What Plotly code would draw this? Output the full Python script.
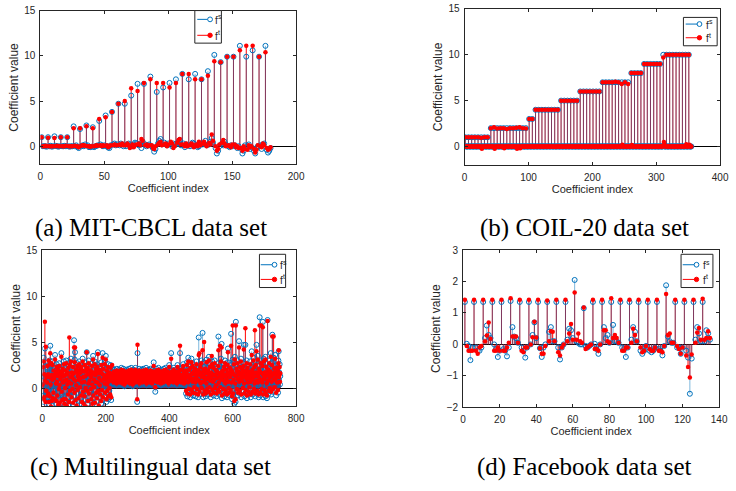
import plotly.graph_objects as go

W, H = 736, 491
BLUE = '#0072BD'
RED = '#FF0000'
AX = '#262626'
SANS = 'Liberation Sans, Arial, sans-serif'
SERIF = 'Liberation Serif, Times New Roman, serif'

# ---------------- (a) MIT-CBCL ----------------
fs_a = [
    1.0, 0, 0, 0, -0.05, 1.0, 0, 0.05, -0.05, 0, 1.1, 0.05, 0, -0.05, 0,
    1.0, 0, 0, 0.05, 0, 1.0, 0, -0.05, 0, 0, 2.2, 0, 0.1, -0.1, -0.2,
    1.9, 0, 0.1, 0, 0.2, 2.3, 0.1, -0.1, -0.1, -0.05, 2.1, -0.1, 0, 0.05, 0.1,
    2.8, 0.2, 0.1, 0, 0.1, 3.4, 0, -0.15, -0.2, 0.1, 3.8, 0.2, 0.3, 0.1, 0.2,
    4.7, 0.1, 0.3, 0.2, 0, 4.7, 0, 0.2, 0.3, 0.1, 5.6, 0, 0.2, 0.4, 0.3,
    6.9, 0.1, 0.3, -0.2, 0.5, 6.9, 0.2, 0, 0.1, 0.2, 7.7, 0, -0.2, -0.6, -0.3,
    6.0, 0.3, 0.6, 0.8, 0.2, 6.5, 0.4, 0.2, 0.1, 0.3, 7.0, 0.2, 0, 0.3, 0.1,
    7.4, 0.3, 0.5, 0.7, 0.1, 8.0, 0.3, -0.1, 0.2, 0.1, 7.4, 0, 0.2, 0.4, 0.3,
    8.0, 0.1, -0.1, 0, 0.2, 7.4, 0.2, 0.3, 0.6, 0.1, 8.3, 0.2, 0.5, 0.9, 0.4,
    10.1, -0.2, -0.8, -0.5, 0, 9.3, 0.3, 0.1, 0.5, 0.2, 9.9, 0, -0.1, 0.1, 0,
    9.9, 0.1, 0, -0.2, 0, 11.1, -0.3, -0.8, -0.5, 0.1, 9.9, 0, 0.2, -0.3, -0.1,
    10.6, -0.5, -0.8, -0.2, 0, 9.9, 0.1, -0.3, 0.2, 0.3, 11.1, -0.4, -0.7, -0.5, -0.2,
]
ft_a = [
    1.0, 0, 0, 0.05, 0, 0.95, 0, 0, 0, 0, 0.9, 0, 0.05, 0, 0,
    1.0, 0, 0, 0, 0.05, 1.0, 0, 0, 0, 0, 2.0, 0.05, 0, 0, -0.1,
    2.0, 0.05, 0.1, 0.1, 0.05, 2.2, 0, 0, -0.05, 0, 2.0, 0, 0.05, 0.1, 0.05,
    3.0, 0.1, 0, 0.1, 0.05, 3.2, 0.1, -0.1, 0, 0.1, 3.8, 0.1, 0.2, 0.1, 0.1,
    4.7, 0.2, 0.1, 0.3, 0.1, 5.0, 0.1, 0.3, 0.1, -0.2, 6.4, 0.2, -0.1, 0.1, 0.2,
    6.1, 0.3, 0.1, 0.8, 0.6, 7.0, 0.1, 0.2, 0, 0.1, 7.4, 0.1, -0.2, -0.3, 0,
    7.0, 0.2, 0.4, 0.5, 0.1, 7.0, 0.2, 0.3, 0, 0.2, 6.5, 0.5, 0.3, -0.2, 0,
    7.0, 0.4, 0.7, 0.8, 0.2, 8.0, 0.2, 0, 0.3, 0, 8.0, 0.1, 0.3, 0.2, -0.1,
    7.4, 0.2, 0, 0.5, 0.1, 7.4, 0.3, 0.5, 0.2, 0, 7.8, 0.4, 0.2, 1.3, 0.6,
    9.4, 0, -0.5, -0.3, 0.2, 9.3, 0.4, 0.7, 0.3, 0, 9.9, 0.1, 0, -0.1, 0.2,
    9.9, 0.2, -0.1, 0, -0.2, 10.6, -0.2, -0.5, 0, -0.3, 11.1, -0.4, 0.1, -0.1, 0,
    11.1, -0.3, -0.7, -0.4, 0.1, 9.9, 0, -0.1, 0.3, 0.1, 10.4, -0.2, -0.4, -0.3, -0.1,
]

# ---------------- (b) COIL-20 ----------------
fs_b = [
    1, 0, 0, 0, 0, 1, 0, 0, 0, 0, 1, 0, 0, 0, 0, 1, 0, 0, 0, 0,
    1, 0, 0, 0, 0, 1, 0, 0, 0, 0, 1, 0, 0, 0, 0, 1, 0, 0, 0, 0,
    2, 0, 0, 0, 0, 2, 0, 0, 0, 0, 2, 0, 0, 0, 0, 2, 0, 0, 0, 0,
    2, 0, 0, 0, 0, 2, 0, 0, 0, 0, 2, 0, 0, 0, 0, 2, 0, 0, 0, 0,
    2, 0, 0, 0, 0, 2, 0, 0, 0, 0, 2, 0, 0, 0, 0, 2, 0, 0, 0, 0,
    3, 0, 0, 0, 0, 3, 0, 0, 0, 0,
    4, 0, 0, 0, 0, 4, 0, 0, 0, 0, 4, 0, 0, 0, 0, 4, 0, 0, 0, 0,
    4, 0, 0, 0, 0, 4, 0, 0, 0, 0, 4, 0, 0, 0, 0, 4, 0, 0, 0, 0,
    5, 0, 0, 0, 0, 5, 0, 0, 0, 0, 5, 0, 0, 0, 0, 5, 0, 0, 0, 0,
    5, 0, 0, 0, 0, 5, 0, 0, 0, 0,
    6, 0, 0, 0, 0, 6, 0, 0, 0, 0, 6, 0, 0, 0, 0, 6, 0, 0, 0, 0,
    6, 0, 0, 0, 0, 6, 0, 0, 0, 0, 6, 0, 0, 0, 0,
    7, 0, 0, 0, 0, 7, 0, 0, 0, 0, 7, 0, 0, 0, 0, 7, 0, 0, 0, 0,
    7, 0, 0, 0, 0, 7, 0, 0, 0, 0, 7, 0, 0, 0, 0, 7, 0, 0, 0, 0,
    7, 0, 0, 0, 0,
    8, 0, 0, 0, 0, 8, 0, 0, 0, 0, 8, 0, 0, 0, 0, 8, 0, 0, 0, 0,
    9, 0, 0, 0, 0, 9, 0, 0, 0, 0, 9, 0, 0, 0, 0, 9, 0, 0, 0, 0,
    9, 0, 0, 0, 0, 9, 0, 0, 0, 0,
    10, 0.1, 0, 0, 0, 10, 0, 0, 0, 0, 10, 0, 0, 0, 0, 10, 0, 0, 0, 0,
    10, 0, 0, 0, 0, 10, 0, 0, 0, 0, 10, 0, 0, 0, 0, 10, 0, 0, 0, 0,
    10, 0, 0, 0, 0,
]
ft_b = [
    1, 0, 0, 0, 0, 1, 0, 0, 0, 0, 1, 0, 0, 0, 0, 1, 0, 0, 0, 0,
    1, 0, 0, 0, 0, 0.95, -0.25, 0, 0, 0, 1, 0, 0, 0, 0, 1, 0, 0, 0, 0,
    2, 0, 0, 0, 0, 2.1, -0.25, 0, 0, 0, 1.95, 0, 0, 0, 0, 2, 0, 0, 0, 0,
    2, -0.2, 0, 0, 0, 1.9, 0, 0, 0, 0, 2, 0, 0, 0, 0, 2, 0, 0, 0, 0,
    2.05, -0.25, 0, 0, 0, 2.1, -0.2, 0, 0, 0, 2, 0, 0, 0, 0, 1.95, 0, 0, 0, 0,
    3, 0, 0, 0, 0, 3, 0, 0, 0, 0,
    4, 0, 0, 0, 0, 4, 0, 0, 0, 0, 4, 0, 0, 0, 0, 4, 0, 0, 0, 0,
    4, 0, 0, 0, 0, 4, 0, 0, 0, 0, 4, -0.05, 0, 0, 0, 4, 0, 0, 0, 0,
    5, 0, 0, 0, 0, 5, 0, 0, 0, 0, 5, 0, 0, 0, 0, 5, 0, 0, 0, 0,
    5, 0, 0, 0, 0, 5, 0, 0, 0, 0,
    6, 0, 0, 0, 0, 6, 0, 0, 0, 0, 6, 0, 0, 0, 0, 6, 0, 0, 0, 0,
    6, 0, 0, 0, 0, 6, 0, 0, 0, 0, 6, 0, 0, 0, 0,
    7, 0, 0, 0, 0, 7, 0, 0, 0, 0, 7, 0, 0, 0, 0, 7, 0, 0, 0, 0,
    7.05, 0, 0, 0, 0, 7, 0, 0, 0, 0, 6.8, 0.2, 0, 0, 0, 7, 0, 0, 0, 0,
    6.8, 0, 0, 0, 0,
    8, 0.15, 0, 0, 0, 8, 0, 0, 0, 0, 8, 0, 0, 0, 0, 8, 0, 0, 0, 0,
    9, 0, 0, 0, 0, 9, 0, 0, 0, 0, 9, 0, 0, 0, 0, 9, 0, 0, 0, 0,
    9, 0, 0, 0, 0, 9, 0, 0, 0, 0,
    9.7, 0.5, 0.2, 0, 0, 10, 0, 0, 0, 0, 10, 0, 0, 0, 0, 10, 0, 0, 0, 0,
    10, 0, 0, 0, 0, 10, 0, 0, 0, 0, 10, 0, 0, 0, 0, 10, 0.25, 0, 0, 0,
    10, 0.2, 0, 0, 0,
]

# ---------------- (c) Multilingual ----------------
fs_c = [
    0.2, 2.6, -1.5, 3.3, -0.8, 1.2, -2.5, 4.3, 0.5, -1.2,
    2.8, -0.5, 1.5, -2.2, 0.3, 2.1, -1.0, 1.8, -0.3, 2.5,
    -1.8, 0.9, 3.0, -0.6, 4.6, 0.1, -2.3, 1.7, 2.4, -1.1,
    0.6, 2.9, -1.4, 1.1, -0.2, 2.2, -2.6, 0.8, 1.6, 3.6,
    -0.9, 1.9, 0.2, -1.7, 2.6, 0.4, -0.5, 1.3, 2.3, -2.1,
    1.0, -0.4, 2.7, 0.0, -1.3, 1.8, 0.7, -2.4, 2.1, 3.8,
    -0.7, 1.4, -1.6, 2.4, 0.3, 1.0, -0.9, 2.9, -2.0, 0.5,
    1.7, -0.3, 2.2, -1.5, 3.0, 0.6, -2.2, 1.2, 0.1, 2.0,
    -1.0, 2.5, 0.4, -1.8, 1.5, 2.8, -0.6, 0.9, -2.5, 3.2,
    0.2, -1.3, 2.0, 1.1, -0.4, 2.6, -1.9, 0.7, 1.9, 5.2,
    -0.8, 3.1, 3.9, 0.5, -1.6, 2.3, 0.0, -2.2, 1.4, 2.7,
    -0.5, 1.0, 2.2, -1.4, 0.6, 2.9, -2.7, 1.3, -0.2, 2.4,
    0.8, -1.1, 2.6, 0.3, -1.8, 1.6, 3.2, -0.7, 0.9, -2.0,
    2.1, 0.4, -1.2, 2.8, 1.0, -0.3, -2.3, 1.5, 2.4, 3.9,
    -0.6, 1.2, 2.5, -1.7, 0.2, 3.0, -0.9, 1.8, 0.5, -2.4,
    1.6, 2.2, -0.4, 0.9, -1.5, 2.7, 0.1, -2.0, 1.3, 3.5,
    -1.1, 2.0, 0.6, -0.2, 2.9, -1.9, 1.1, 0.4, 2.4, -0.8,
    1.5, -1.4, 2.6, 0.3, 3.9, -0.6, 1.9, -2.2, 0.8, 2.3,
    0.0, -1.0, 2.1, 1.4, -1.7, 2.8, 0.5, -0.5, 1.2, 3.8,
    -1.3, 2.4, 0.7, -2.5, 1.7, 0.2, 2.9, -0.8, 1.0, 3.5,
    0.6, -1.5, 2.2, 0.1, -0.6, 1.8, 2.6, -1.2, 0.4, 1.5,
    -0.3, 2.0, 0.8, -1.0, 2.5, 1.1, -1.3, 0.5, 1.6, 2.2,
    0.9, 1.6, 0.5, 1.9, 1.2, 0.4, 2.0, 1.0, 0.7, 1.5,
    1.8, 0.6, 1.3, 0.3, 2.1, 1.1, 0.8, 1.7, 0.5, 1.4,
    1.0, 2.0, 0.4, 1.6, 0.9, 1.9, 0.6, 1.2, 2.2, 0.7,
    1.5, 0.3, 1.8, 1.1, 0.5, 2.1, 0.9, 1.4, 0.2, 1.7,
    0.8, 1.9, 0.6, 1.3, 2.0, 0.4, 1.6, 1.0, 1.8, 0.5,
    1.2, 0.7, 2.1, 0.9, 1.5, 0.3, 1.8, 1.1, 0.6, 2.2,
    0.5, 1.4, 1.0, 1.9, 0.2, 1.6, 2.0, 0.8, 1.3, 0.6,
    1.7, 0.9, 2.2, 0.4, 1.2, 1.9, 0.7, 1.5, -1.5, 3.8,
    1.0, 1.8, 0.5, 1.3, 2.1, 0.3, 1.6, 0.9, 1.9, 0.6,
    1.4, 0.8, 2.0, 1.1, 0.4, 1.7, 1.0, 2.1, 0.6, 1.3,
    0.7, 1.9, 1.2, 0.5, 1.8, 0.9, 2.2, 0.3, 1.5, 1.0,
    1.6, 0.6, 1.3, 2.0, 0.8, 1.4, 0.4, 1.9, 1.1, 0.7,
    2.1, 1.0, 0.5, 1.7, 1.2, 0.3, 2.0, 0.8, 1.5, 0.9,
    2.8, 1.3, 0.6, 1.9, 1.0, -0.4, 1.6, 0.9, 2.1, 0.5,
    1.4, 0.8, 1.8, 1.1, 0.4, 2.2, 0.7, 1.5, 1.0, 1.9,
    0.6, 1.7, 1.2, 0.3, 2.0, 0.9, 1.4, 0.5, 1.8, 1.1,
    1.5, 0.4, 2.1, 1.0, 0.7, 1.6, 1.3, 2.2, 0.6, 1.2,
    0.9, 1.8, 0.5, 1.4, 2.0, 0.8, 1.1, 0.3, 1.7, 2.5,
    1.2, 0.7, 1.9, 1.0, 0.5, 3.8, 1.3, 0.8, 2.0, 0.6,
    1.6, 1.1, 0.4, 2.2, 0.9, 1.5, 0.7, 1.8, 1.2, 0.5,
    2.0, 0.8, 1.4, 0.3, 1.7, 2.5, 0.6, 1.1, 1.9, 0.9,
    1.3, 2.1, 0.5, 3.8, 1.0, 0.7, 1.6, 1.2, 0.4, 2.2,
    0.8, 1.5, 1.1, 2.6, 0.6, 1.9, 0.3, 1.4, 1.0, 2.0,
    0.5, 2.2, -0.6, 1.4, 0.9, 2.8, -0.9, 1.1, 0.3, 3.3,
    1.0, -0.4, 2.3, 0.6, 1.7, -1.0, 2.5, 0.8, 1.3, 3.2,
    -0.5, 1.9, 0.4, 2.7, -0.8, 1.2, 0.7, 2.1, -0.2, 1.5,
    2.4, 0.3, -0.9, 1.8, 0.9, 2.9, -0.4, 1.3, 0.6, 2.2,
    -1.0, 1.6, 5.5, 0.5, 2.0, -0.7, 1.1, 2.6, 0.2, 1.4,
    3.0, -0.3, 0.9, 1.7, 6.0, 0.4, -1.0, 2.3, 1.0, 2.8,
    -0.6, 1.5, 0.6, 2.4, -0.9, 1.9, 0.2, 3.1, 0.8, -0.4,
    1.3, 2.2, -0.7, 0.7, 3.4, 1.0, -0.2, 2.6, 0.5, 1.8,
    -1.0, 2.0, 0.9, 1.4, 2.9, -0.5, 1.2, 0.4, 2.5, -0.8,
    1.7, 0.6, 3.0, -0.3, 1.1, 2.3, 0.0, 1.6, -0.9, 2.1,
    0.8, 1.4, -0.5, 2.7, 5.6, 0.3, 1.9, -0.7, 1.0, 2.4,
    -0.2, 1.2, 3.2, 0.6, 4.8, -1.1, 1.5, 0.9, 2.2, -0.4,
    1.8, 0.5, 2.6, -0.9, 1.0, 3.0, 0.2, -0.6, 1.7, 2.3,
    0.7, -1.0, 1.3, 2.8, 4.3, 0.4, -0.3, 2.0, 1.1, -0.8,
    2.5, 0.9, -0.5, 1.6, 5.9, 0.3, 2.2, -1.2, 1.4, 3.1,
    -0.9, 1.8, 0.6, 2.9, -1.7, 1.1, 3.4, 0.2, -1.5, 7.2,
    1.0, 2.4, -0.4, 1.5, 3.0, 0.7, -0.8, 2.1, 1.2, 5.1,
    0.4, -0.6, 2.6, 1.3, 0.8, 3.2, -1.0, 1.7, 0.5, 2.3,
    1.9, -0.3, 0.9, 2.7, 4.7, 0.2, -0.9, 1.4, 2.2, 4.7,
    -0.5, 1.6, 0.7, 3.0, -1.1, 1.2, 2.5, 0.3, 1.8, -0.7,
    2.1, 0.8, -0.2, 1.5, 2.9, 0.4, -1.0, 1.9, 1.1, 4.0,
    0.6, 2.3, -0.7, 1.3, 3.3, 0.9, -0.4, 2.6, 0.2, 1.7,
    -0.9, 1.4, 2.8, 0.5, 4.7, 1.0, -0.6, 2.0, 3.5, 0.3,
    1.2, -1.0, 2.4, 0.8, 7.7, 1.5, -0.8, 3.0, 0.6, 2.2,
    -0.4, 1.9, 0.3, 2.7, 7.2, -1.0, 1.1, 3.2, 0.7, -0.5,
    2.0, 0.9, 3.4, -0.9, 1.4, 2.6, 0.2, -1.1, 1.7, 7.4,
    0.5, 2.3, -0.6, 1.2, 3.0, 0.8, -0.3, 2.1, 1.0, 3.8,
    -0.7, 1.6, 0.4, 2.8, 5.8, 1.1, -0.4, 1.9, 3.3, 0.6,
    2.4, -0.2, 1.3, 3.6, 0.7, 1.8, -0.8, 2.5, 1.0, 0.3,
    1.5, 2.2, -0.5, 3.0, 4.0, 0.9, 1.7, 2.6, 0.4, 1.3,
]
ft_c = [
    0.4, 2.3, -1.2, 2.9, -1.0, 1.5, -2.2, 7.2, 0.8, -1.5,
    4.5, -0.3, 1.2, -2.4, 0.6, 2.4, -0.8, 1.5, -0.6, 3.0,
    -1.5, 1.2, 2.6, -0.9, 3.8, 0.4, -2.0, 1.4, 2.7, -1.4,
    0.9, 2.5, -1.1, 1.4, -0.5, 1.9, -2.3, 1.1, 1.3, 3.1,
    -1.2, 1.6, 0.5, -1.4, 2.3, 0.7, -0.8, 1.6, 2.0, -1.8,
    1.3, -0.1, 2.4, 0.3, -1.6, 1.5, 1.0, -2.1, 1.8, 3.4,
    -0.4, 1.7, -1.3, 2.1, 0.6, 1.3, -1.2, 2.6, -1.7, 0.8,
    1.4, 0.0, 1.9, -1.2, 2.7, 0.9, -1.9, 1.5, 0.4, 1.7,
    -0.7, 2.2, 0.7, -1.5, 5.5, 2.5, -0.3, 1.2, -2.2, 2.9,
    0.5, -1.0, 1.7, 1.4, -0.1, 2.3, -1.6, 1.0, 1.6, 4.4,
    -0.5, 2.8, 4.4, 0.8, -1.3, 2.0, 0.3, -1.9, 1.7, 2.4,
    -0.2, 1.3, 1.9, -1.1, 0.9, 2.6, -2.4, 1.6, 0.1, 2.1,
    1.1, -0.8, 2.3, 0.6, -1.5, 1.9, 2.9, -0.4, 1.2, -1.7,
    1.8, 0.7, -0.9, 2.5, 1.3, 0.0, -2.0, 1.8, 2.1, 3.9,
    -0.3, 1.5, 2.2, -1.4, 0.5, 2.7, -0.6, 1.5, 0.8, -2.1,
    1.9, 1.9, -0.1, 1.2, -1.2, 2.4, 0.4, -1.7, 1.6, 3.1,
    -0.8, 1.7, 0.9, 0.1, 2.6, -1.6, 1.4, 0.7, 2.1, -0.5,
    1.8, -1.1, 2.3, 0.6, 3.7, -0.3, 1.6, -1.9, 1.1, 2.0,
    0.3, -0.7, 1.8, 1.7, -1.4, 2.5, 0.8, -0.2, 1.5, 3.3,
    -1.0, 2.1, 1.0, -2.2, 1.4, 0.5, 2.6, -0.5, 1.3, 3.1,
    0.9, -1.2, 1.9, 0.4, -0.3, 1.5, 2.3, -0.9, 0.7, 1.2,
    0.0, 1.7, 1.1, -0.7, 2.2, 1.4, -1.0, 0.8, 1.3, 2.5,
    1.1, 1.4, 0.7, 1.7, 1.4, 0.6, 1.8, 1.2, 0.9, 1.3,
    1.6, 0.8, 1.5, 0.5, 1.9, 1.3, 1.0, 1.5, 0.7, 1.6,
    1.2, 1.8, 0.6, 1.4, 1.1, 1.7, 0.8, 1.4, 2.0, 0.9,
    1.3, 0.5, 1.6, 1.3, 0.7, 1.9, 1.1, 1.2, 0.4, 1.5,
    1.0, 1.7, 0.8, 1.5, 1.8, 0.6, 1.4, 1.2, 1.6, 0.7,
    1.4, 0.9, 1.9, 1.1, 1.3, 0.5, 1.6, 1.3, 0.8, 2.0,
    0.7, 1.6, 1.2, 1.7, 0.4, 1.4, 1.8, 1.0, 1.5, 0.8,
    1.5, 1.1, 2.0, 0.6, 1.4, 1.7, 0.9, 1.3, -1.2, 4.7,
    1.2, 1.6, 0.7, 1.5, 1.9, 0.5, 1.4, 1.1, 1.7, 0.8,
    1.6, 1.0, 1.8, 1.3, 0.6, 1.5, 1.2, 1.9, 0.8, 1.5,
    0.9, 1.7, 1.4, 0.7, 1.6, 1.1, 2.0, 0.5, 1.3, 1.2,
    1.4, 0.8, 1.5, 1.8, 1.0, 1.6, 0.6, 1.7, 1.3, 0.9,
    1.9, 1.2, 0.7, 1.5, 1.4, 0.5, 1.8, 1.0, 1.3, 1.1,
    2.4, 1.5, 0.8, 1.7, 1.2, 0.1, 1.4, 1.1, 1.9, 0.7,
    1.6, 1.0, 1.6, 1.3, 0.6, 2.0, 0.9, 1.3, 1.2, 1.7,
    0.8, 1.5, 1.4, 0.5, 1.8, 1.1, 1.6, 0.7, 1.6, 1.3,
    1.3, 0.6, 1.9, 1.2, 0.9, 1.4, 1.5, 2.0, 0.8, 1.4,
    1.1, 1.6, 0.7, 1.6, 1.8, 1.0, 1.3, 0.5, 1.5, 2.3,
    1.4, 0.9, 1.7, 1.2, 0.7, 3.2, 1.5, 1.0, 1.8, 0.8,
    1.4, 1.3, 0.6, 2.0, 1.1, 1.3, 0.9, 1.6, 1.4, 0.7,
    1.8, 1.0, 1.2, 0.5, 1.5, 2.3, 0.8, 1.3, 1.7, 1.1,
    1.5, 1.9, 0.7, 4.6, 1.2, 0.9, 1.4, 1.4, 0.6, 2.0,
    1.0, 1.3, 1.3, 2.4, 0.8, 1.7, 0.5, 1.6, 1.2, 1.8,
    0.8, 1.9, -0.3, 1.7, 1.2, 2.5, -0.6, 1.4, 0.6, 2.9,
    1.3, -0.1, 2.0, 0.9, 1.4, -0.7, 2.2, 1.1, 1.0, 2.8,
    -0.2, 1.6, 0.7, 2.4, -0.5, 1.5, 1.0, 1.8, 0.1, 1.8,
    2.1, 0.6, -0.6, 1.5, 1.2, 2.6, -0.1, 1.6, 0.9, 1.9,
    -0.7, 1.9, 3.6, 0.8, 3.8, -0.4, 1.4, 2.3, 0.5, 1.7,
    2.7, 0.0, 1.2, 1.4, 4.1, 0.7, -0.7, 2.0, 1.3, 5.0,
    -0.3, 1.8, 0.9, 2.1, -0.6, 1.6, 0.5, 2.8, 1.1, -0.1,
    1.6, 1.9, -0.4, 1.0, 3.0, 1.3, 0.1, 2.3, 0.8, 1.5,
    -0.7, 1.7, 1.2, 3.5, 2.6, -0.2, 1.5, 0.7, 2.2, -0.5,
    1.4, 0.9, 2.7, 0.0, 1.4, 2.0, 0.3, 1.9, -0.6, 1.8,
    1.1, 1.7, -0.2, 2.4, 4.1, 0.6, 1.6, -0.4, 1.3, 4.6,
    0.1, 1.5, 2.9, 0.9, 4.4, -0.8, 1.8, 1.2, 1.9, -0.1,
    1.5, 0.8, 2.3, -0.6, 1.3, 2.7, 0.5, -0.3, 1.4, 2.0,
    1.0, -0.7, 1.6, 2.5, 3.9, 0.7, 0.0, 1.7, 1.4, -0.5,
    2.2, 1.2, -0.2, 1.9, 4.6, 0.6, 1.9, -0.9, 1.7, 6.8,
    -0.6, 1.5, 0.9, 2.6, -1.4, 1.4, 3.1, 0.5, -1.2, 6.8,
    1.3, 2.1, -0.1, 1.8, 2.7, 1.0, -0.5, 1.8, 1.5, 4.4,
    0.7, -0.3, 2.3, 1.6, 1.1, 2.9, -0.7, 1.4, 0.8, 2.0,
    1.6, 0.0, 1.2, 2.4, 4.2, 0.5, -0.6, 1.7, 1.9, 6.5,
    -0.2, 1.3, 1.0, 2.7, -0.8, 1.5, 2.2, 0.6, 1.5, -0.4,
    1.8, 1.1, 0.1, 1.2, 2.6, 0.7, -0.7, 1.6, 1.4, 3.6,
    0.9, 2.0, -0.4, 1.6, 3.0, 1.2, -0.1, 2.3, 0.5, 6.3,
    -0.6, 1.7, 2.5, 0.8, 4.0, 1.3, -0.3, 1.7, 3.1, 0.6,
    1.5, -0.7, 2.1, 1.1, 6.8, 1.8, -0.5, 2.7, 0.9, 6.8,
    -0.1, 1.6, 0.6, 2.4, 6.6, -0.7, 1.4, 2.9, 1.0, -0.2,
    1.7, 1.2, 3.1, -0.6, 1.7, 2.3, 0.5, -0.8, 1.4, 7.3,
    0.8, 2.0, -0.3, 1.5, 2.7, 1.1, 0.0, 1.8, 1.3, 3.4,
    -0.4, 1.3, 0.7, 2.5, 5.6, 1.4, -0.1, 1.6, 5.6, 0.9,
    2.1, 0.1, 1.6, 3.2, 1.0, 1.5, -0.5, 2.2, 1.3, 0.6,
    1.8, 1.9, -0.2, 2.7, 4.1, 1.2, 1.4, 2.3, 0.7, 1.6,
]

# ---------------- (d) Facebook ----------------
fs_d = [
    1.35, 0.02, -0.05, -0.5, -0.1, 1.35, -0.1, -0.2, -0.2, -0.1,
    1.35, 0.2, 0.6, 0.3, 0.2, 1.35, 0.0, -0.15, -0.4, -0.2,
    1.35, -0.15, -0.2, -0.38, -0.1, 1.38, 0.55, 0.25, 0.2, 0.05,
    1.35, -0.1, -0.2, -0.42, -0.1, 1.35, 0.0, 0.3, 0.7, 0.2,
    1.35, -0.12, -0.4, -0.1, 0.0, 1.35, 0.4, 0.55, 0.1, 0.1,
    1.35, -0.1, -0.48, -0.1, 0.0, 1.35, 0.15, 0.5, 0.45, 0.2,
    2.05, 0.1, 0.05, 0.0, 0.0, 1.15, -0.05, -0.1, -0.05, 0.0,
    1.35, 0.02, -0.15, -0.3, 0.0, 1.35, 0.55, 0.2, 0.3, 0.05,
    1.35, 0.62, 0.1, 0.1, 0.05, 1.35, -0.1, -0.15, -0.4, -0.1,
    1.35, 0.15, 0.55, 0.4, 0.1, 1.35, -0.2, -0.3, -0.2, -0.05,
    1.35, -0.2, -0.25, -0.2, -0.1, 1.35, -0.15, -0.2, -0.35, -0.05,
    1.88, 0.25, 0.1, 0.05, 0.05, 1.35, -0.1, -0.1, -0.3, -0.1,
    1.35, -0.2, -0.42, -1.57, -0.45, 1.35, 0.15, 0.55, 0.35, 0.1,
    1.35, 0.1, 0.45, 0.35, 0.15,
]
ft_d = [
    1.42, -0.05, -0.2, -0.2, -0.2, 1.42, -0.2, -0.3, -0.1, -0.05,
    1.42, 0.1, 0.28, 0.7, 0.18, 1.42, -0.2, -0.2, -0.1, -0.2,
    1.42, -0.2, -0.2, -0.1, 0.05, 1.47, 0.25, 0.25, 0.25, 0.05,
    1.42, -0.2, -0.25, -0.1, -0.1, 1.42, 0.0, 0.23, 0.72, 0.22,
    1.42, -0.12, -0.3, -0.3, -0.05, 1.4, 0.1, 0.42, 0.4, 0.1,
    1.42, -0.25, -0.35, -0.1, 0.0, 1.42, 0.1, 0.35, 0.65, 0.15,
    1.65, 0.15, 0.35, 0.1, 0.05, 1.17, -0.15, -0.1, -0.05, 0.0,
    1.42, -0.15, -0.15, -0.2, 0.0, 1.42, 0.45, 0.45, 0.1, 0.05,
    1.47, 0.2, 0.3, 0.2, 0.05, 1.42, -0.2, -0.2, -0.1, -0.1,
    1.42, 0.05, 0.5, 0.3, 0.1, 1.42, -0.1, -0.25, -0.2, -0.05,
    1.42, -0.15, -0.2, -0.2, -0.1, 1.42, -0.2, -0.2, -0.25, -0.05,
    1.6, 0.3, 0.35, 0.05, 0.05, 1.42, -0.05, -0.15, -0.3, -0.1,
    1.42, -0.35, -0.72, -1.05, -0.32, 1.42, 0.05, 0.38, 0.52, 0.15,
    1.45, 0.15, 0.2, 0.42, 0.2,
]

x_ticks_a = [0, 50, 100, 150, 200]
x_ticks_b = [0, 100, 200, 300, 400]
x_ticks_c = [0, 200, 400, 600, 800]
x_ticks_d = [0, 20, 40, 60, 80, 100, 120, 140]
y_ticks_big = [0, 5, 10, 15]
y_ticks_d = [-2, -1, 0, 1, 2, 3]

captions = ["(a) MIT-CBCL data set", "(b) COIL-20 data set",
            "(c) Multilingual data set", "(d) Facebook data set"]
legend_base = "f"
legend_sup = ["s", "t"]

# layout (pixel geometry)
panels = [
    dict(fs=fs_a, ft=ft_a, xr=[0, 200], xt=x_ticks_a, yr=[-2, 15], yt=y_ticks_big,
         box=(38, 5.7, 298, 163), leg=(195, 5.7, 222, 39, 14.7, 31, 197.5, 210.5, 213.5), cap=(150, 228)),
    dict(fs=fs_b, ft=ft_b, xr=[0, 400], xt=x_ticks_b, yr=[-2, 15], yt=y_ticks_big,
         box=(469.3, 4, 729, 163.5), leg=(691.7, 12.7, 726, 41.7, 19.5, 33.5, 694, 708, 712.5), cap=(591, 228)),
    dict(fs=fs_c, ft=ft_c, xr=[0, 800], xt=x_ticks_c, yr=[-2, 15], yt=y_ticks_big,
         box=(40, 250.7, 298, 410.7), leg=(260.7, 255, 287.3, 289, 265.7, 280.7, 262, 276, 279.5), cap=(150, 473)),
    dict(fs=fs_d, ft=ft_d, xr=[0, 140], xt=x_ticks_d, yr=[-2, 3], yt=y_ticks_d,
         box=(467.7, 250.7, 728, 411.5), leg=(689.3, 255, 721.7, 289, 265.7, 280.7, 691, 705, 709.5), cap=(591, 473)),
]


def px(xp):
    return xp / W


def py(yp):
    return 1 - yp / H


fig = go.Figure()
shapes = []
annotations = []
layout_axes = {}

for i, p in enumerate(panels):
    n = '' if i == 0 else str(i + 1)
    xa, ya = 'x' + n, 'y' + n
    idx = list(range(1, len(p['fs']) + 1))
    sx, sys_, syt = [], [], []
    for k, xi in enumerate(idx):
        sx += [xi, xi, None]
        sys_ += [0, p['fs'][k], None]
        syt += [0, p['ft'][k], None]
    fig.add_trace(go.Scatter(x=sx, y=syt, mode='lines', line=dict(color=RED, width=1),
                             hoverinfo='skip', showlegend=False, xaxis=xa, yaxis=ya))
    fig.add_trace(go.Scatter(x=sx, y=sys_, mode='lines', line=dict(color=BLUE, width=1),
                             opacity=0.5, hoverinfo='skip', showlegend=False, xaxis=xa, yaxis=ya))
    fig.add_trace(go.Scatter(x=idx, y=p['fs'], mode='markers', name='fs',
                             marker=dict(symbol='circle-open', size=5, color=BLUE, line=dict(width=1, color=BLUE)),
                             showlegend=False, xaxis=xa, yaxis=ya))
    fig.add_trace(go.Scatter(x=idx, y=p['ft'], mode='markers', name='ft',
                             marker=dict(symbol='circle', size=4.5, color=RED, line=dict(width=0)),
                             showlegend=False, xaxis=xa, yaxis=ya))

    x0, y0, x1, y1 = p['box']
    common = dict(showline=True, linecolor=AX, linewidth=1, mirror='ticks', ticks='inside',
                  ticklen=3, tickcolor=AX, tickwidth=1, showgrid=False,
                  tickfont=dict(family=SANS, size=10, color=AX))
    layout_axes['xaxis' + n] = dict(common, domain=[px(x0), px(x1)], range=p['xr'], tickvals=p['xt'],
                                    anchor=ya, zeroline=False, ticklabelstandoff=3,
                                    title=dict(text='Coefficient index', standoff=2,
                                               font=dict(family=SANS, size=11, color=AX)))
    layout_axes['yaxis' + n] = dict(common, domain=[py(y1), py(y0)], range=p['yr'], tickvals=p['yt'],
                                    anchor=xa, zeroline=True, zerolinecolor='#000000', zerolinewidth=1,
                                    ticklabelstandoff=2,
                                    title=dict(text='Coefficient value', standoff=3,
                                               font=dict(family=SANS, size=12, color=AX)))

    # legend drawn in paper space
    bx0, by0, bx1, by1, r1, r2, lx0, lx1, tx = p['leg']
    shapes.append(dict(type='rect', xref='paper', yref='paper', x0=px(bx0), x1=px(bx1),
                       y0=py(by1), y1=py(by0), line=dict(color=AX, width=1), fillcolor='white'))
    for r, col, sup, filled in [(r1, BLUE, legend_sup[0], False), (r2, RED, legend_sup[1], True)]:
        shapes.append(dict(type='line', xref='paper', yref='paper', x0=px(lx0), x1=px(lx1),
                           y0=py(r), y1=py(r), line=dict(color=col, width=1)))
        rad = 2.2 if filled else 2.4
        shapes.append(dict(type='circle', xref='paper', yref='paper', xsizemode='pixel', ysizemode='pixel',
                           xanchor=px(lx1), yanchor=py(r), x0=-rad, x1=rad, y0=-rad, y1=rad,
                           line=dict(color=col, width=1), fillcolor=col if filled else 'white'))
        annotations.append(dict(x=px(tx), y=py(r + 1), xref='paper', yref='paper', text=legend_base,
                                showarrow=False, xanchor='left', yanchor='middle',
                                font=dict(family=SANS, size=10, color=AX)))
        annotations.append(dict(x=px(tx + 3.2), y=py(r - 2.5), xref='paper', yref='paper', text=sup,
                                showarrow=False, xanchor='left', yanchor='middle',
                                font=dict(family=SANS, size=7, color=AX)))
    cx, cy = p['cap']
    annotations.append(dict(x=px(cx), y=py(cy), xref='paper', yref='paper', text=captions[i],
                            showarrow=False, xanchor='center', yanchor='middle',
                            font=dict(family=SERIF, size=25, color='#000000')))

fig.update_layout(
    width=W, height=H, margin=dict(l=0, r=0, t=0, b=0),
    paper_bgcolor='white', plot_bgcolor='white', showlegend=False,
    shapes=shapes, annotations=annotations, **layout_axes,
)

fig.write_html("out.html")
